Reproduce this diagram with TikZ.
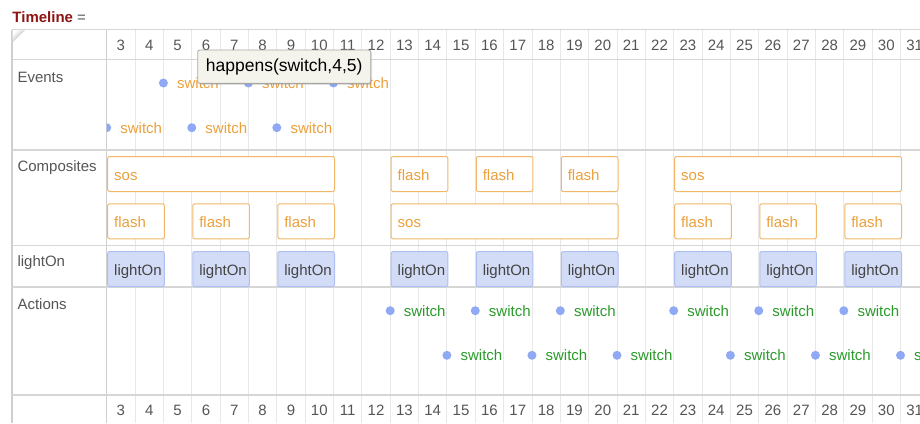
\documentclass[tikz,border=0pt]{standalone}
\usepackage{fontspec}
\setmainfont{Liberation Sans}
\usetikzlibrary{shadows}
\definecolor{gridc}{HTML}{E8E8E8}
\definecolor{rowc}{HTML}{D6D6D6}
\definecolor{divc}{HTML}{CFCFCF}
\definecolor{orangeln}{HTML}{F2B768}
\definecolor{orangetxt}{HTML}{EBA03C}
\definecolor{bluefill}{HTML}{D3DCF6}
\definecolor{blueline}{HTML}{AEC0F2}
\definecolor{dotc}{HTML}{8FA9F4}
\definecolor{greentxt}{HTML}{2A9A2A}
\definecolor{labelc}{HTML}{555555}
\definecolor{titlec}{HTML}{8E1414}
\definecolor{tipfill}{HTML}{F5F4EC}
\newcommand\fsnorm{\fontsize{15}{18}\selectfont}
\newcommand\fstip{\fontsize{17.5}{21}\selectfont}
\tikzset{
  rowline/.style={draw=rowc, line width=1.3pt},
  gridline/.style={draw=gridc, line width=0.9pt},
  lab/.style={font=\fsnorm, text=labelc, anchor=west, inner sep=0pt},
  num/.style={font=\fsnorm, text=labelc, inner sep=0pt},
  compbox/.style={draw=orangeln, line width=1pt, rounded corners=2pt, fill=white,
    text=orangetxt, font=\fsnorm, anchor=north west, inner xsep=6.5pt, inner ysep=0pt,
    align=left, minimum height=35pt, text height=13.2pt, text depth=0.8pt},
  litebox/.style={draw=blueline, line width=1pt, rounded corners=2pt, fill=bluefill,
    text=labelc!80!black, font=\fsnorm, anchor=north west, inner xsep=6.5pt, inner ysep=0pt,
    align=left, minimum height=35pt, text height=13.2pt, text depth=0.8pt},
  evdot/.style={circle, fill=dotc, inner sep=0pt, minimum size=9pt},
  evtxt/.style={font=\fsnorm, text=orangetxt, anchor=west, inner sep=0pt},
  actxt/.style={font=\fsnorm, text=greentxt, anchor=west, inner sep=0pt},
}
\begin{document}
\begin{tikzpicture}[x=1pt,y=-1pt]
\useasboundingbox (0,0) rectangle (920,423);
\clip (0,0) rectangle (920,423);
% title
\node[anchor=west, inner sep=0pt, font=\fsnorm] (title) at (12.3,17)
  {\textcolor{titlec}{\bfseries Timeline} \textcolor{labelc}{=}};
% vertical grid lines
\foreach \i in {1,...,29}{
  \draw[gridline] ({106.7+28.35*\i},29.5) -- ({106.7+28.35*\i},423);
}
\draw[draw=divc, line width=1.1pt] (106.7,29.5) -- (106.7,423);
\draw[draw=divc, line width=1.3pt] (12,29.5) -- (12,423);
% horizontal row lines
\foreach \y in {29.5,59.5,150,245.5,287,395}{
  \draw[rowline] (12,\y) -- (920,\y);
}
% corner icon
\shade[left color=white, right color=gray!75, shading angle=45] (12.5,30.3) -- (25,30.3) -- (12.5,42.5) -- cycle;
% header numbers
\foreach \n in {3,...,31}{
  \node[num] (top\n) at ({106.7+28.35*(\n-3)+14.17},45) {\n};
  \node[num] (bot\n) at ({106.7+28.35*(\n-3)+14.17},410) {\n};
}
% row labels
\node[lab] (lEvents) at (17.3,77) {Events};
\node[lab] (lComp) at (17.3,167.5) {Composites};
\node[lab] (lLight) at (17.3,263) {lightOn};
\node[lab] (lAct) at (17.3,304.5) {Actions};
\begin{scope}
\clip (106.7,29.5) rectangle (920,423);
% events
\foreach \i/\r in {2/1,5/1,8/1,0/2,3/2,6/2}{
  \pgfmathsetmacro{\yy}{\r==1 ? 83 : 127.7}
  \node[evdot] (ev\i) at ({106.7+28.35*\i},\yy) {};
  \node[evtxt] (evt\i) at ({106.7+28.35*\i+13.5},\yy) {switch};
}
% composites row 1
\foreach \i/\k/\t in {0/8/sos,10/2/flash,13/2/flash,16/2/flash,20/8/sos}{
  \node[compbox, text width={28.35*\k-13}] (ca\i) at ({106.7+28.35*\i+0.5},156) {\t};
}
% composites row 2
\foreach \i/\k/\t in {0/2/flash,3/2/flash,6/2/flash,10/8/sos,20/2/flash,23/2/flash,26/2/flash}{
  \node[compbox, text width={28.35*\k-13}] (cb\i) at ({106.7+28.35*\i+0.5},203.3) {\t};
}
% lightOn
\foreach \i in {0,3,6,10,13,16,20,23,26}{
  \node[litebox, text width={28.35*2-13}] (lo\i) at ({106.7+28.35*\i+0.5},251) {lightOn};
}
% actions
\foreach \i/\r in {10/1,13/1,16/1,20/1,23/1,26/1,12/2,15/2,18/2,22/2,25/2,28/2}{
  \pgfmathsetmacro{\yy}{\r==1 ? 310.7 : 355.3}
  \node[evdot] (ac\i) at ({106.7+28.35*\i},\yy) {};
  \node[actxt] (act\i) at ({106.7+28.35*\i+13.5},\yy) {switch};
}
\end{scope}
% tooltip
\node[draw=gray!70, fill=tipfill, rounded corners=2pt, line width=0.8pt,
  drop shadow={shadow xshift=1.5pt, shadow yshift=-1.5pt, opacity=0.25},
  font=\fstip, text=black, minimum width=173pt, minimum height=33.3pt, inner sep=0pt]
  (tip) at (284.2,66.7) {happens(switch,4,5)};
\end{tikzpicture}
\end{document}
